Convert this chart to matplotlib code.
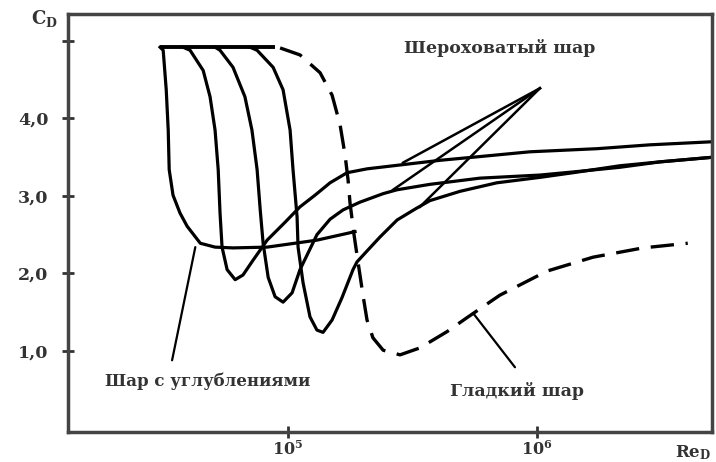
import numpy as np
import matplotlib.pyplot as plt

plt.rcParams['font.family'] = ['DejaVu Serif']
plt.rcParams['font.weight'] = 'bold'
plt.rcParams['mathtext.fontset'] = 'dejavuserif'

# общая горизонталь в начале (докритическая область)
plateau_re = [30600, 88700]
plateau_cd = [4.92, 4.92]

# шар с углублениями, кривая 1 (уходит в полку ~2.3)
c1_re = [30600, 31500, 32400, 33000, 33300, 34500, 36800, 39300, 44400, 50900,
         60100, 82400, 130600, 185800]
c1_cd = [4.92, 4.88, 4.37, 3.85, 3.34, 3.01, 2.78, 2.61, 2.39, 2.34,
         2.33, 2.34, 2.43, 2.54]

# кривая 2
c2_re = [37800, 40400, 45600, 48600, 50900, 52400, 53300, 54300, 56900, 61300,
         65900, 72300, 82400, 97200, 111700, 128300, 147500,
         172600, 207600, 281800, 407500, 553400, 937000, 1742000, 2844000, 5093000]
c2_cd = [4.92, 4.88, 4.62, 4.28, 3.85, 3.34, 2.78, 2.34, 2.05, 1.92,
         1.98, 2.17, 2.43, 2.66, 2.86, 3.01, 3.17,
         3.30, 3.35, 3.40, 3.46, 3.50, 3.57, 3.61, 3.66, 3.70]

# кривая 3
c3_re = [50900, 53300, 60100, 67100, 71600, 75100, 77300, 79400, 83200, 88700,
         95500, 103800, 111700, 130600, 147500, 166300, 194500,
         241000, 274200, 371500, 590000, 1028000, 1396000, 2153000, 3119000, 5093000]
c3_cd = [4.92, 4.88, 4.66, 4.28, 3.85, 3.34, 2.82, 2.39, 1.95, 1.70,
         1.63, 1.75, 2.05, 2.50, 2.70, 2.82, 2.92,
         3.03, 3.08, 3.15, 3.23, 3.27, 3.31, 3.37, 3.44, 3.50]

# кривая 4
c4_re = [70300, 75100, 87100, 95500, 101900, 104700, 108700, 109700, 114900, 122500,
         130600, 138200, 150300, 164800, 182400, 189300, 207600,
         234000, 274200, 323600, 371500, 490900, 690200, 1028000, 1396000, 2153000,
         3119000, 5093000]
c4_cd = [4.92, 4.88, 4.66, 4.37, 3.85, 3.34, 2.73, 2.34, 1.88, 1.44,
         1.27, 1.24, 1.40, 1.69, 2.05, 2.15, 2.29,
         2.47, 2.69, 2.83, 2.94, 3.06, 3.17, 3.24, 3.30, 3.39,
         3.44, 3.50]

# «клин» шероховатого шара: три отрезка к общей вершине
spike_tip = (1028000, 4.39)
spike_start_re = [289700, 264200, 338800]
spike_start_cd = [3.43, 3.08, 2.86]

# гладкий шар (пунктир)
smooth_re = [92900, 111700, 134500, 150300, 161800, 169400, 174200, 177400, 184100,
             191000, 200000, 207600, 219300, 241000, 281800, 338800, 435500, 523600,
             709600, 1096000, 1679000, 2667000, 4036000]
smooth_cd = [4.91, 4.82, 4.59, 4.30, 3.92, 3.53, 3.21, 2.91, 2.50,
             2.15, 1.72, 1.40, 1.17, 1.01, 0.95, 1.04, 1.25, 1.43,
             1.72, 2.03, 2.21, 2.33, 2.39]

fig = plt.figure(figsize=(7.16, 4.62), dpi=100)
ax = fig.add_axes([0.095, 0.065, 0.8994, 0.9047])
ax.set_xscale('log')

lw = 2.3
ax.plot(plateau_re, plateau_cd, color='black', lw=2.8, solid_capstyle='butt')
for x, y in [(c1_re, c1_cd), (c2_re, c2_cd), (c3_re, c3_cd), (c4_re, c4_cd)]:
    ax.plot(x, y, color='black', lw=lw, solid_joinstyle='round')
for sx, sy in zip(spike_start_re, spike_start_cd):
    ax.plot([sx, spike_tip[0]], [sy, spike_tip[1]], color='black', lw=1.8)
ax.plot(smooth_re, smooth_cd, color='black', lw=2.4, dashes=(7, 3.5))

# подписи и выноски
ax.annotate('', xy=(42400, 2.34), xytext=(34200, 0.88),
            arrowprops=dict(arrowstyle='-', lw=1.6, color='black', shrinkA=0, shrinkB=0))
ax.text(47300, 0.61, 'Шар с углублениями', ha='center', va='center',
        fontsize=12, color='#333333')
ax.annotate('', xy=(553400, 1.49), xytext=(816000, 0.79),
            arrowprops=dict(arrowstyle='-', lw=1.6, color='black', shrinkA=0, shrinkB=0))
ax.text(832000, 0.48, 'Гладкий шар', ha='center', va='center',
        fontsize=12.5, color='#333333')
ax.text(709600, 4.91, 'Шероховатый шар', ha='center', va='center',
        fontsize=12.5, color='#333333')

ax.text(-0.036, 0.99, r'C$_\mathregular{D}$', transform=ax.transAxes,
        ha='center', va='center', fontsize=13, color='#333333')
ax.text(0.97, -0.05, r'Re$_\mathregular{D}$', transform=ax.transAxes,
        ha='center', va='center', fontsize=12, color='#333333')

ax.set_xlim(13060, 5.05e6)
ax.set_ylim(-0.045, 5.348)
ax.set_xticks([1e5, 1e6])
ax.set_xticklabels([r'$\mathbf{10^{5}}$', r'$\mathbf{10^{6}}$'])
ax.xaxis.set_minor_locator(plt.NullLocator())
ax.set_yticks([1, 2, 3, 4, 5])
ax.set_yticklabels(['1,0', '2,0', '3,0', '4,0', ''])
ax.tick_params(direction='inout', length=8, width=2, color='#333333',
               labelcolor='#333333')
ax.tick_params(axis='y', labelsize=12.5, pad=10)
ax.tick_params(axis='x', labelsize=11.5, pad=2)
for s in ax.spines.values():
    s.set_linewidth(2.5)
    s.set_color('#444444')

fig.savefig('out.png', dpi=100)
